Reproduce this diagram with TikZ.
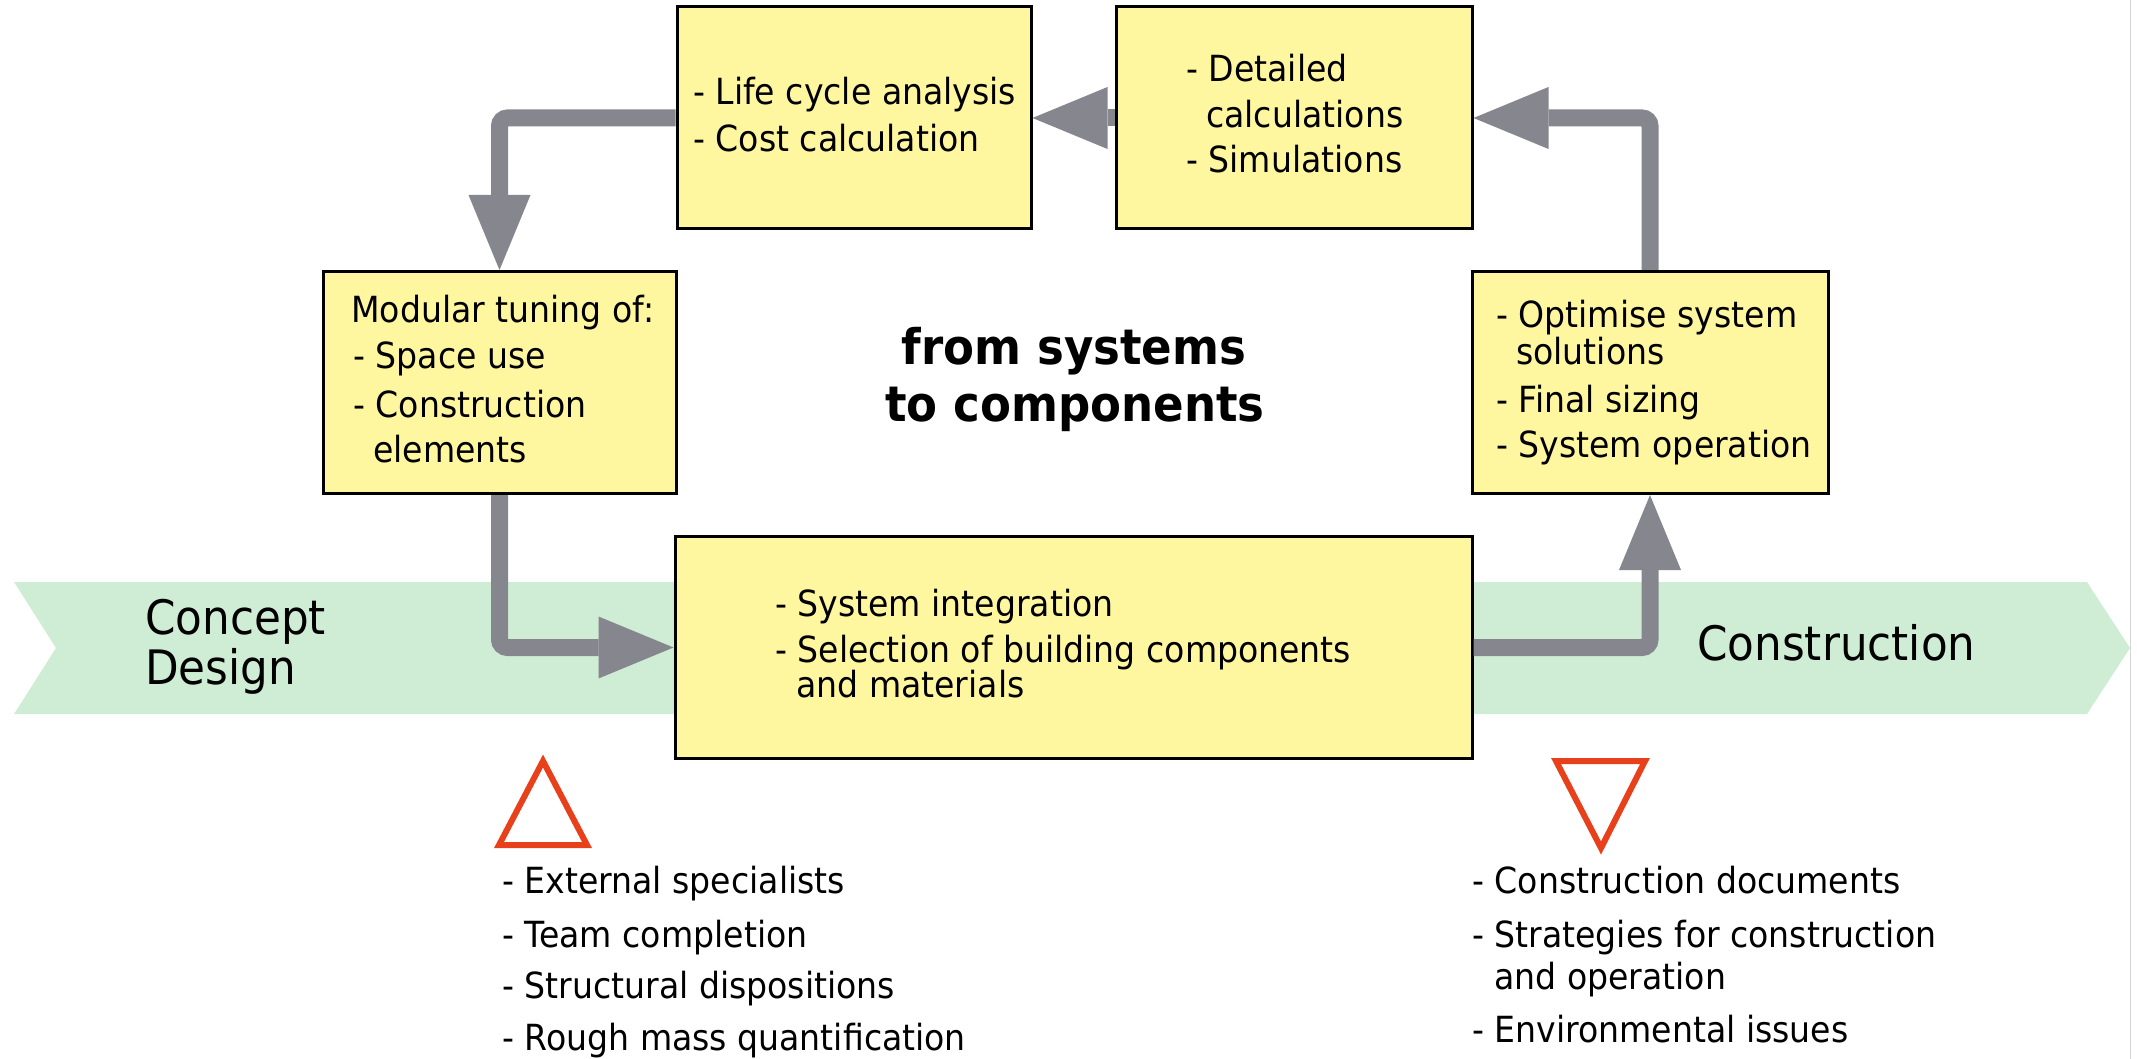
\documentclass[tikz,border=0pt]{standalone}
\usepackage{fontspec}
\setmainfont{DejaVu Sans}[FakeStretch=0.92]
\usetikzlibrary{arrows.meta}
\definecolor{boxfill}{RGB}{255,247,160}
\definecolor{bandgreen}{RGB}{207,237,212}
\definecolor{arrowgray}{RGB}{134,134,142}
\definecolor{trired}{RGB}{232,64,26}
\definecolor{edgegray}{RGB}{212,212,212}
\begin{document}
\begin{tikzpicture}[x=1pt,y=-1pt,
  box/.style={draw=black, line width=3pt, fill=boxfill, inner sep=0pt,
              minimum width=#1, minimum height=222pt},
  flow/.style={draw=arrowgray, line width=17pt, rounded corners=8pt,
               -{Triangle[length=75pt,width=62pt,line width=0pt]}},
  txt/.style={anchor=base west, inner sep=0pt, font=\fontsize{36}{40}\selectfont},
  phase/.style={anchor=base west, inner sep=0pt, font=\fontsize{47.5}{52}\selectfont},
  ttl/.style={anchor=base, inner sep=0pt, font=\bfseries\fontsize{49}{55}\selectfont},
  tri/.style={draw=trired, line width=6pt, line join=miter}]
\useasboundingbox (0,0) rectangle (2137,1059);

% green phase band
\fill[bandgreen] (14,582) -- (2087,582) -- (2130,648) -- (2087,714) -- (14,714) -- (56,648) -- cycle;
% right frame line
\draw[edgegray, line width=1.5pt] (2130.5,0) -- (2130.5,1059);

% boxes
\node[box=354pt] (lca) at (854,118) {};
\node[box=356pt] (det) at (1294,118) {};
\node[box=353pt] (mod) at (499.5,382.5) {};
\node[box=356pt] (opt) at (1650,382.5) {};
\node[box=797pt] (sys) at (1073.5,647.5) {};

% connectors
\draw[flow] (lca.west) -| (mod.north);
\draw[flow] (det.west) -- (lca.east);
\draw[flow] (opt.north) |- (det.east);
\draw[flow] (mod.south) |- (sys.west);
\draw[flow] (sys.east) -| (opt.south);

% box texts
\node[txt] (lca1) at (693,105) {- Life cycle analysis};
\node[txt] (lca2) at (693,152) {- Cost calculation};

\node[txt] (det1) at (1186,82) {- Detailed};
\node[txt] (det2) at (1206,128) {calculations};
\node[txt] (det3) at (1186,173) {- Simulations};

\node[txt] (mod1) at (351,323) {Modular tuning of:};
\node[txt] (mod2) at (353,368) {- Space use};
\node[txt] (mod3) at (353,417) {- Construction};
\node[txt] (mod4) at (373,462) {elements};

\node[txt] (opt1) at (1496,328) {- Optimise system};
\node[txt] (opt2) at (1516,364) {solutions};
\node[txt] (opt3) at (1496,412) {- Final sizing};
\node[txt] (opt4) at (1496,457) {- System operation};

\node[txt] (sys1) at (775,616) {- System integration};
\node[txt] (sys2) at (775,662) {- Selection of building components};
\node[txt] (sys3) at (796,697) {and materials};

% title
\node[ttl] (t1) at (1074,364) {from systems};
\node[ttl] (t2) at (1075,421) {to components};

% phases
\node[phase] (cd1) at (145,634) {Concept};
\node[phase] (cd2) at (145,684) {Design};
\node[phase] (con) at (1697,660) {Construction};

% triangles
\draw[tri] (543,761) -- (587,845) -- (499,845) -- cycle;
\draw[tri] (1556,761) -- (1645,761) -- (1601,848) -- cycle;

% lists below
\node[txt] (l1) at (502,893) {- External specialists};
\node[txt] (l2) at (502,947) {- Team completion};
\node[txt] (l3) at (502,998) {- Structural dispositions};
\node[txt] (l4) at (502,1050) {- Rough mass quantification};

\node[txt] (r1) at (1472,893) {- Construction documents};
\node[txt] (r2) at (1472,947) {- Strategies for construction};
\node[txt] (r3) at (1494,989) {and operation};
\node[txt] (r4) at (1472,1042) {- Environmental issues};
\end{tikzpicture}
\end{document}
